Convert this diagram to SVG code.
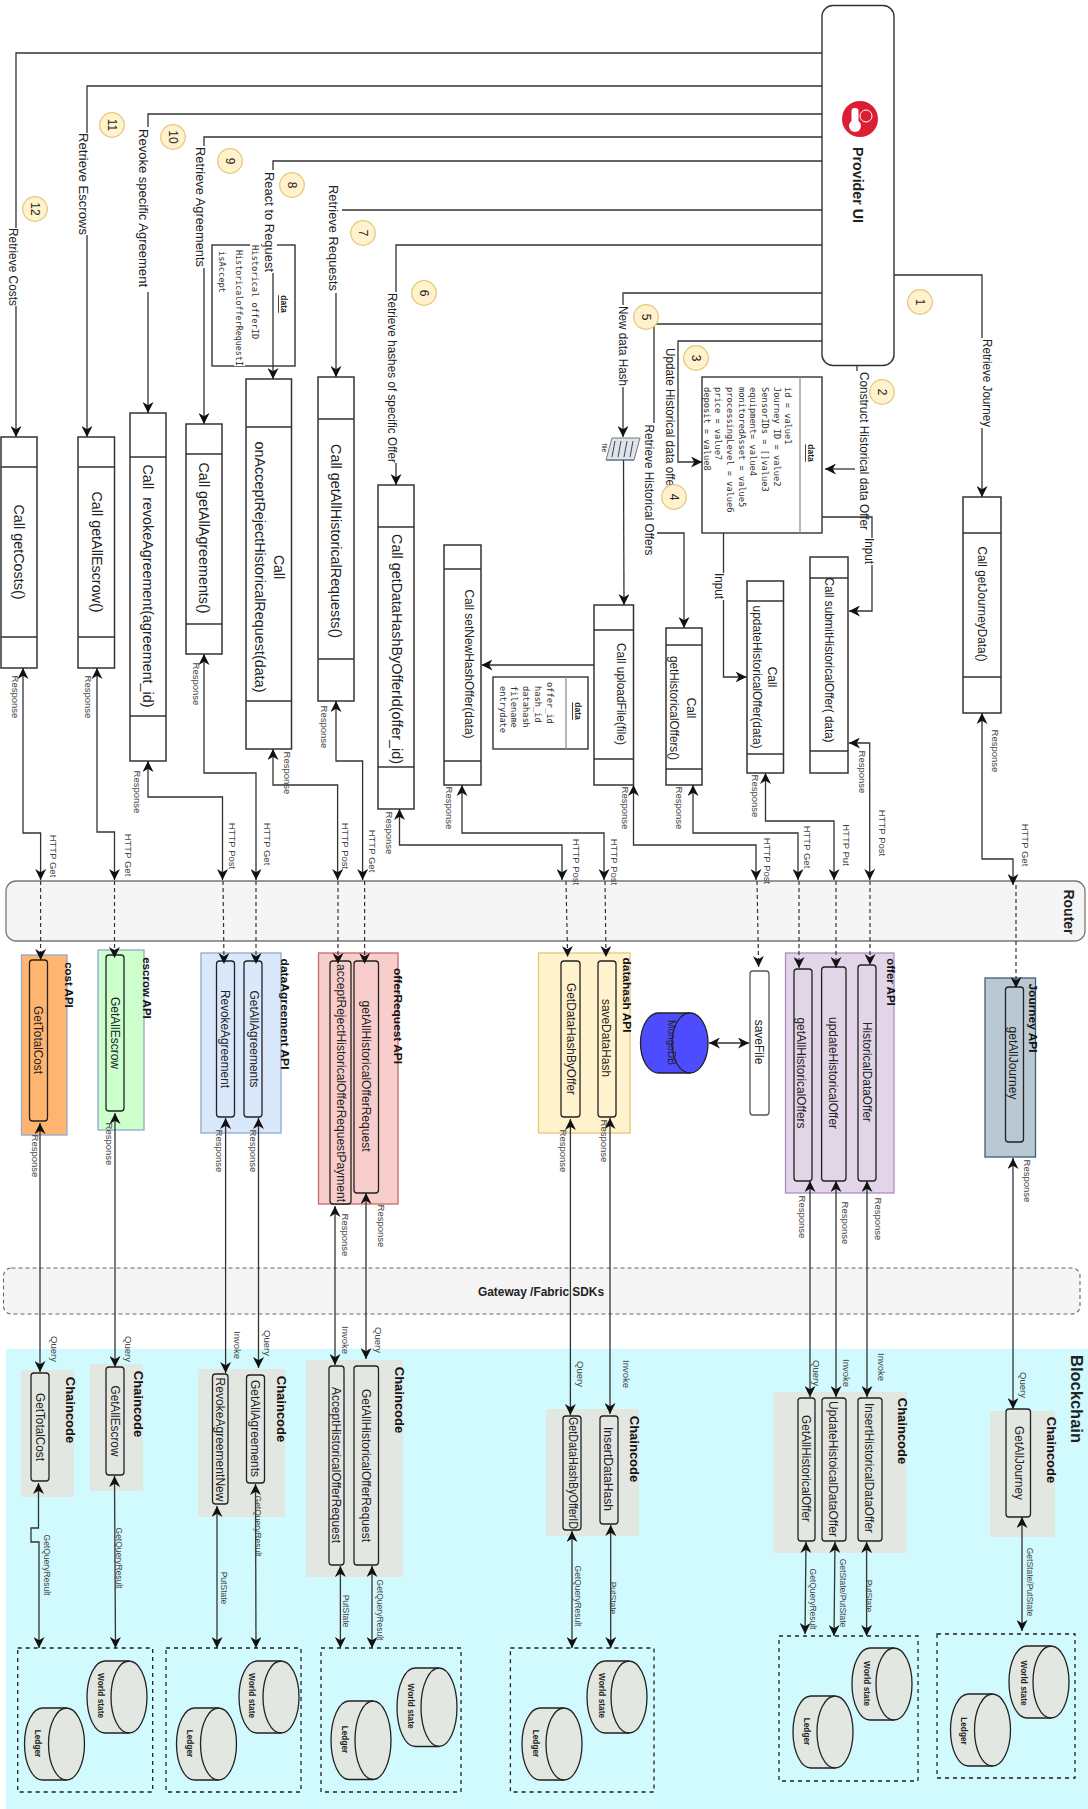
<svg xmlns="http://www.w3.org/2000/svg" xmlns:xlink="http://www.w3.org/1999/xlink" width="1088" height="1809" viewBox="0 0 1088 1809">
<style>
text{font-family:"Liberation Sans",Arial,sans-serif;text-anchor:middle;dominant-baseline:central;fill:#222}
.b{fill:#fff;stroke:#333;stroke-width:1.5}
.l{fill:none;stroke:#333;stroke-width:1.3}
.d{fill:none;stroke:#333;stroke-width:1.2;stroke-dasharray:4 3}
.a{marker-end:url(#ah)}
.aa{marker-start:url(#ah);marker-end:url(#ah)}
.in{stroke:#222;stroke-width:1.3}
.cc{fill:#e2e7e1}
.bg{fill:#fff}
.t14{font-size:14px}
.t12{font-size:12px}
.lb{font-size:12px}
.r{font-size:9.5px;fill:#444}
.q{font-size:8.5px;fill:#444}
.h{font-size:13px;font-weight:bold;fill:#111}
.api{font-size:11.5px;font-weight:bold;fill:#111}
.mono{font-family:"DejaVu Sans Mono","Liberation Mono",monospace;font-size:8.7px;fill:#333;text-anchor:start}
.bold{font-weight:bold}
.cb{font-size:8.3px;font-weight:bold;fill:#222}
.num{fill:#fff2cc;stroke:#e3c77a;stroke-width:1.2}
.dash{fill:none;stroke:#222;stroke-width:1.3;stroke-dasharray:4 4}
</style>
<defs>
<marker id="ah" viewBox="0 0 10 10" refX="10" refY="5" markerWidth="11" markerHeight="11" markerUnits="userSpaceOnUse" orient="auto-start-reverse"><path d="M0,0L10,5L0,10L3,5Z" fill="#111"/></marker>
<g id="cyl"><path class="cc" stroke="#222" stroke-width="1.3" d="M18,0H42A18,36 0 0 1 42,72H18A18,36 0 0 1 18,0Z"/><path fill="none" stroke="#222" stroke-width="1.3" d="M42,0A18,36 0 0 0 42,72"/></g>
</defs>
<rect width="1088" height="1809" fill="#fff"/>

<g id="blockchain">
<rect x="6" y="1349" width="1082" height="460" fill="#d1faff"/>
<text class="bold" font-size="16.5" transform="translate(1077,1399) rotate(90)">Blockchain</text>
</g>

<g id="router">
<rect x="6" y="881" width="1079" height="60" rx="10" fill="#f5f5f5" stroke="#777" stroke-width="1.3"/>
<text class="bold t14" transform="translate(1069,912) rotate(90)">Router</text>
</g>
<g id="gateway">
<rect x="3.5" y="1268" width="1076.5" height="46" rx="8" fill="#f5f5f5" stroke="#666" stroke-width="1.1" stroke-dasharray="4 3"/>
<text class="bold" font-size="12" x="541" y="1292" fill="#444" textLength="126" lengthAdjust="spacingAndGlyphs">Gateway /Fabric SDKs</text>
</g>

<g id="provider-ui">
<rect x="822" y="5.5" width="72" height="360" rx="11" fill="#fff" stroke="#333" stroke-width="1.4"/>
<circle cx="860" cy="119" r="18" fill="#dc1e35"/>
<rect x="851.5" y="108" width="7" height="20" rx="3" fill="#fff"/>
<circle cx="855" cy="126" r="6" fill="#fff"/>
<circle cx="866" cy="116" r="6" fill="none" stroke="#fff" stroke-width="1"/>
<text class="bold" font-size="14.2" transform="translate(858,185) rotate(90)" textLength="76" lengthAdjust="spacingAndGlyphs">Provider UI</text>
</g>

<g id="data-request">
<rect x="212" y="245" width="83" height="121" fill="#fff" stroke="#333" stroke-width="1.4"/>
<rect x="250" y="244" width="11" height="97" class="bg"/>
<rect x="234" y="249" width="11" height="117" class="bg"/>
<rect x="217" y="250" width="11" height="43" class="bg"/>
<text class="mono" transform="translate(255,245) rotate(90)">Historical offerID</text>
<text class="mono" transform="translate(239,250) rotate(90)" textLength="116" lengthAdjust="spacingAndGlyphs">HistoricalofferRequestI</text>
<text class="mono" transform="translate(222,251) rotate(90)">isAccept</text>
<text class="bold" font-size="8.5" text-decoration="underline" transform="translate(284,304) rotate(90)">data</text>
</g>

<g id="data-offer">
<rect x="702" y="377" width="120" height="156" fill="#fff" stroke="#333" stroke-width="1.4"/>
<path d="M800,377V533" stroke="#999" stroke-width="1.4"/>
<text class="bold" font-size="8.5" text-decoration="underline" transform="translate(811,453) rotate(90)">data</text>
<text class="mono" transform="translate(788,387) rotate(90)">id = value1</text>
<text class="mono" transform="translate(777,387) rotate(90)">Journey ID = value2</text>
<text class="mono" transform="translate(765,387) rotate(90)">SensorIDs = []value3</text>
<text class="mono" transform="translate(753,387) rotate(90)">equipment= value4</text>
<text class="mono" transform="translate(742,387) rotate(90)">monitoredAsset = value5</text>
<text class="mono" transform="translate(730,387) rotate(90)">processingLevel = value6</text>
<text class="mono" transform="translate(718,387) rotate(90)">price = value7</text>
<text class="mono" transform="translate(707,387) rotate(90)">deposit = value8</text>
</g>

<g id="data-hash">
<rect x="493" y="677" width="95" height="72" fill="#fff" stroke="#333" stroke-width="1.4"/>
<path d="M566,677V749" stroke="#999" stroke-width="1.4"/>
<text class="bold" font-size="8.5" text-decoration="underline" transform="translate(578,711) rotate(90)">data</text>
<text class="mono" transform="translate(550,682) rotate(90)">offer_id</text>
<text class="mono" transform="translate(538,686) rotate(90)">hash_id</text>
<text class="mono" transform="translate(526,686) rotate(90)">datahash</text>
<text class="mono" transform="translate(514,686) rotate(90)">filename</text>
<text class="mono" transform="translate(502.5,686) rotate(90)">entrydate</text>
</g>

<g id="file-icon">
<path d="M612,438H640L634,460H606Z" fill="#dfe3ea" stroke="#778" stroke-width="1"/>
<path d="M606,460H634" stroke="#7f8fb0" stroke-width="2"/>
<path d="M615,441L612,457M621,441L618,457M627,441L624,457M633,441L630,457" stroke="#444" stroke-width="1"/>
<text font-size="7" fill="#666" transform="translate(604,448) rotate(90)">file</text>
</g>

<g id="call-costs"><rect class="b" x="1" y="437" width="36" height="231"/><path class="b" d="M1,467H37M1,637H37"/><text class="t14" transform="translate(19,552) rotate(90)" textLength="95" lengthAdjust="spacingAndGlyphs">Call getCosts()</text></g>
<g id="call-escrow"><rect class="b" x="78" y="437" width="36.500" height="231"/><path class="b" d="M78,467H114.500M78,637H114.500"/><text class="t14" transform="translate(97,552) rotate(90)" textLength="121" lengthAdjust="spacingAndGlyphs">Call getAllEscrow()</text></g>
<g id="call-revoke"><rect class="b" x="130" y="413" width="36" height="348"/><path class="b" d="M130,457H166M130,716H166"/><text class="t14" xml:space="preserve" transform="translate(148,586) rotate(90)" textLength="243" lengthAdjust="spacingAndGlyphs">Call  revokeAgreement(agreement_id)</text></g>
<g id="call-agreements"><rect class="b" x="186" y="424" width="36" height="230"/><path class="b" d="M186,454H222M186,624H222"/><text class="t14" transform="translate(204,538) rotate(90)" textLength="151" lengthAdjust="spacingAndGlyphs">Call getAllAgreements()</text></g>
<g id="call-accept"><rect class="b" x="246" y="379" width="45.500" height="370"/><path class="b" d="M246,427H291.500M246,701H291.500"/><text class="t14" transform="translate(279,567) rotate(90)">Call</text><text class="t14" transform="translate(260,567) rotate(90)" textLength="251" lengthAdjust="spacingAndGlyphs">onAcceptRejectHistoricalRequest(data)</text></g>
<g id="call-requests"><rect class="b" x="318" y="377" width="36" height="324"/><path class="b" d="M318,419H354M318,659H354"/><text class="t14" transform="translate(336,541) rotate(90)" textLength="194" lengthAdjust="spacingAndGlyphs">Call getAllHistoricalRequests()</text></g>
<g id="call-datahash"><rect class="b" x="378" y="485" width="36" height="324"/><path class="b" d="M378,527H414M378,767H414"/><text class="t14" transform="translate(397,649) rotate(90)" textLength="230" lengthAdjust="spacingAndGlyphs">Call getDataHashByOfferId(offer_id)</text></g>
<g id="call-newhash"><rect class="b" x="444" y="545" width="37" height="240"/><path class="b" d="M444,569H481M444,761H481"/><text class="t12" transform="translate(469,664) rotate(90)" textLength="149" lengthAdjust="spacingAndGlyphs">Call setNewHashOffer(data)</text></g>
<g id="call-upload"><rect class="b" x="594" y="605" width="39.500" height="180"/><path class="b" d="M594,630H633.500M594,759H633.500"/><text class="t12" transform="translate(621,694) rotate(90)" textLength="102" lengthAdjust="spacingAndGlyphs">Call uploadFile(file)</text></g>
<g id="call-gethist"><rect class="b" x="666" y="628" width="36" height="157"/><path class="b" d="M666,645H702M666,769H702"/><text class="t12" transform="translate(691,708) rotate(90)">Call</text><text class="t12" transform="translate(674,708) rotate(90)" textLength="104" lengthAdjust="spacingAndGlyphs">getHistoricalOffers()</text></g>
<g id="call-update"><rect class="b" x="747" y="581" width="36.500" height="192"/><path class="b" d="M747,601H783.500M747,754H783.500"/><text class="t12" transform="translate(772,677) rotate(90)">Call</text><text class="t12" transform="translate(757,677) rotate(90)" textLength="143" lengthAdjust="spacingAndGlyphs">updateHistoricalOffer(data)</text></g>
<g id="call-submit"><rect class="b" x="810" y="557" width="38" height="216"/><path class="b" d="M810,578H848M810,751H848"/><text class="t12" transform="translate(829,660) rotate(90)" textLength="165" lengthAdjust="spacingAndGlyphs">Call submitHistoricalOffer( data)</text></g>
<g id="call-journey"><rect class="b" x="963" y="497" width="38" height="216"/><path class="b" d="M963,533H1001M963,677H1001"/><text class="t12" transform="translate(982,604) rotate(90)" textLength="115" lengthAdjust="spacingAndGlyphs">Call getJourneyData()</text></g>

<g id="cost-api">
<rect x="21.500" y="955" width="45.500" height="180" fill="#ffb570" stroke="#8fa9d0" stroke-width="1.300"/>
<rect class="in" x="29.500" y="960" width="18" height="161" rx="3" fill="#ffb570"/>
<text class="api" transform="translate(69.400,985) rotate(90)">cost API</text>
<text class="t12" transform="translate(37.500,1040) rotate(90)" fill="#333" textLength="68" lengthAdjust="spacingAndGlyphs">GetTotalCost</text>
</g>
<g id="escrow-api">
<rect x="98" y="950" width="46" height="180" fill="#ccffcc" stroke="#8fa9d0" stroke-width="1.300"/>
<rect class="in" x="106" y="955" width="18" height="156" rx="3" fill="#ccffcc"/>
<text class="api" transform="translate(146.500,988) rotate(90)">escrow API</text>
<text class="t12" transform="translate(114.500,1033) rotate(90)" textLength="72" lengthAdjust="spacingAndGlyphs">GetAllEscrow</text>
</g>
<g id="dataagreement-api">
<rect x="201" y="953" width="80" height="180" fill="#dae8fc" stroke="#8fa9d0" stroke-width="1.300"/>
<rect class="in" x="216.500" y="961" width="18" height="156" rx="3" fill="#dae8fc"/>
<rect class="in" x="244" y="961" width="18" height="156" rx="3" fill="#dae8fc"/>
<text class="api" transform="translate(284.500,1014) rotate(90)" textLength="111" lengthAdjust="spacingAndGlyphs">dataAgreement API</text>
<text class="t12" transform="translate(225,1039) rotate(90)" textLength="98" lengthAdjust="spacingAndGlyphs">RevokeAgreement</text>
<text class="t12" transform="translate(253.500,1039) rotate(90)" textLength="97" lengthAdjust="spacingAndGlyphs">GetAllAgreements</text>
</g>
<g id="offerrequest-api">
<rect x="318.500" y="953" width="79.500" height="251" fill="#f8cecc" stroke="#c56a66" stroke-width="1.300"/>
<rect class="in" x="330" y="961" width="21" height="243" rx="3" fill="#f8cecc"/>
<rect class="in" x="354" y="961" width="24.500" height="232" rx="3" fill="#f8cecc"/>
<text class="api" transform="translate(397.500,1016) rotate(90)" textLength="96" lengthAdjust="spacingAndGlyphs">offerRequest API</text>
<text class="t12" transform="translate(341,1083) rotate(90)" textLength="238" lengthAdjust="spacingAndGlyphs">acceptRejectHistoricalOfferRequestPayment</text>
<text class="t12" transform="translate(366,1076) rotate(90)" textLength="151" lengthAdjust="spacingAndGlyphs">getAllHistoricalOfferRequest</text>
</g>
<g id="datahash-api">
<rect x="538.500" y="953" width="91.500" height="180" fill="#fff2cc" stroke="#e3c77a" stroke-width="1.300"/>
<rect class="in" x="561" y="961" width="19" height="156" rx="3" fill="#fff2cc"/>
<rect class="in" x="598" y="961" width="18" height="156" rx="3" fill="#fff2cc"/>
<text class="api" transform="translate(627,995) rotate(90)" textLength="75" lengthAdjust="spacingAndGlyphs">datahash API</text>
<text class="t12" transform="translate(570.500,1039) rotate(90)" textLength="112" lengthAdjust="spacingAndGlyphs">GetDataHashByOffer</text>
<text class="t12" transform="translate(606,1038) rotate(90)" textLength="78" lengthAdjust="spacingAndGlyphs">saveDataHash</text>
</g>
<g id="mongodb">
<path fill="#4d4dff" stroke="#222" stroke-width="1.300" d="M658.500,1013H690A18,30 0 0 1 690,1073H658.500A18,30 0 0 1 658.500,1013Z"/>
<path fill="none" stroke="#222" stroke-width="1.300" d="M690,1013A18,30 0 0 0 690,1073"/>
<text font-size="10" fill="#111" transform="translate(671,1042.500) rotate(90)" textLength="45" lengthAdjust="spacingAndGlyphs">MongoDB</text>
</g>
<g id="savefile">
<rect x="750" y="971" width="19" height="144" rx="3" fill="#fff" stroke="#555" stroke-width="1.300"/>
<text class="t12" transform="translate(758.600,1042) rotate(90)">saveFile</text>
</g>
<g id="offer-api">
<rect x="785.500" y="953" width="108.500" height="240" fill="#e1d5e7" stroke="#b08fc0" stroke-width="1.300"/>
<rect class="in" x="794" y="969" width="18" height="212" rx="3" fill="#e1d5e7"/>
<rect class="in" x="821.600" y="967" width="24.400" height="214" rx="3" fill="#e1d5e7"/>
<rect class="in" x="858" y="965" width="18" height="216" rx="3" fill="#e1d5e7"/>
<text class="api" transform="translate(891,982) rotate(90)">offer API</text>
<text class="t12" transform="translate(801,1073) rotate(90)" textLength="111" lengthAdjust="spacingAndGlyphs">getAllHistoricalOffers</text>
<text class="t12" transform="translate(833,1073) rotate(90)" textLength="112" lengthAdjust="spacingAndGlyphs">updateHistoricalOffer</text>
<text class="t12" transform="translate(867,1072) rotate(90)" textLength="100" lengthAdjust="spacingAndGlyphs">HistoricalDataOffer</text>
</g>
<g id="journey-api">
<rect x="985" y="978" width="50.500" height="179" fill="#bac8d3" stroke="#3d5f78" stroke-width="1.300"/>
<rect class="in" x="1005.500" y="987" width="18" height="155" rx="3" fill="#bac8d3"/>
<text class="api" transform="translate(1033,1018) rotate(90)" textLength="69" lengthAdjust="spacingAndGlyphs">Journey API</text>
<text class="t12" transform="translate(1013,1063) rotate(90)" fill="#333" textLength="73" lengthAdjust="spacingAndGlyphs">getAllJourney</text>
</g>

<g id="chaincode-cost">
<rect class="cc" x="21" y="1370" width="53" height="127"/>
<rect class="in" x="31" y="1373" width="18" height="108" rx="3" fill="#e2e7e1"/>
<text class="h" transform="translate(70,1410) rotate(90)">Chaincode</text>
<text class="t12" transform="translate(40,1427) rotate(90)" textLength="68" lengthAdjust="spacingAndGlyphs">GetTotalCost</text>
</g>
<g id="chaincode-escrow">
<rect class="cc" x="90" y="1364" width="53" height="127"/>
<rect class="in" x="106" y="1367" width="18" height="108" rx="3" fill="#e2e7e1"/>
<text class="h" transform="translate(138,1404) rotate(90)">Chaincode</text>
<text class="t12" transform="translate(115,1421) rotate(90)" textLength="71" lengthAdjust="spacingAndGlyphs">GetAllEscrow</text>
</g>
<g id="chaincode-agreement">
<rect class="cc" x="198" y="1369" width="87" height="148"/>
<rect class="in" x="212.500" y="1374" width="15.500" height="130" rx="3" fill="#e2e7e1"/>
<rect class="in" x="246.500" y="1375" width="18" height="108" rx="3" fill="#e2e7e1"/>
<text class="h" transform="translate(281,1409) rotate(90)">Chaincode</text>
<text class="t12" transform="translate(220,1439.500) rotate(90)" textLength="124" lengthAdjust="spacingAndGlyphs">RevokeAgreementNew</text>
<text class="t12" transform="translate(255,1428.500) rotate(90)" textLength="97" lengthAdjust="spacingAndGlyphs">GetAllAgreements</text>
</g>
<g id="chaincode-request">
<rect class="cc" x="306" y="1360" width="97" height="217"/>
<rect class="in" x="329" y="1366" width="15" height="199" rx="3" fill="#e2e7e1"/>
<rect class="in" x="354" y="1366" width="24.500" height="199" rx="3" fill="#e2e7e1"/>
<text class="h" transform="translate(399,1400) rotate(90)">Chaincode</text>
<text class="t12" transform="translate(336,1465) rotate(90)" textLength="156" lengthAdjust="spacingAndGlyphs">AcceptHistoricalOfferRequest</text>
<text class="t12" transform="translate(366,1465.500) rotate(90)" textLength="153" lengthAdjust="spacingAndGlyphs">GetAllHistoricalOfferRequest</text>
</g>
<g id="chaincode-datahash">
<rect class="cc" x="546" y="1409" width="93" height="127"/>
<rect class="in" x="563" y="1416" width="18" height="114" rx="3" fill="#e2e7e1"/>
<rect class="in" x="600" y="1416" width="18" height="108" rx="3" fill="#e2e7e1"/>
<text class="h" transform="translate(634,1449) rotate(90)">Chaincode</text>
<text class="t12" transform="translate(572.500,1473) rotate(90)" textLength="112" lengthAdjust="spacingAndGlyphs">GetDataHashByOfferID</text>
<text class="t12" transform="translate(608,1469) rotate(90)" textLength="84" lengthAdjust="spacingAndGlyphs">InsertDataHash</text>
</g>
<g id="chaincode-offer">
<rect class="cc" x="773.500" y="1392" width="133" height="161"/>
<rect class="in" x="798" y="1398" width="17" height="143" rx="3" fill="#e2e7e1"/>
<rect class="in" x="822" y="1398" width="24" height="143" rx="3" fill="#e2e7e1"/>
<rect class="in" x="858" y="1398" width="24" height="143" rx="3" fill="#e2e7e1"/>
<text class="h" transform="translate(902,1431) rotate(90)">Chaincode</text>
<text class="t12" transform="translate(806,1468.500) rotate(90)" textLength="107" lengthAdjust="spacingAndGlyphs">GetAllHistoricalOffer</text>
<text class="t12" transform="translate(833,1469) rotate(90)" textLength="136" lengthAdjust="spacingAndGlyphs">UpdateHistoicalDataOffer</text>
<text class="t12" transform="translate(868.600,1468) rotate(90)" textLength="130" lengthAdjust="spacingAndGlyphs">InsertHistoricalDataOffer</text>
</g>
<g id="chaincode-journey">
<rect class="cc" x="990" y="1411" width="65" height="126"/>
<rect class="in" x="1006" y="1409" width="24.500" height="108" rx="3" fill="#e2e7e1"/>
<text class="h" transform="translate(1051,1450) rotate(90)">Chaincode</text>
<text class="t12" transform="translate(1018.600,1463) rotate(90)" textLength="74" lengthAdjust="spacingAndGlyphs">GetAllJourney</text>
</g>

<g id="store-a"><rect class="dash" x="17.700" y="1648" width="135" height="144"/><use href="#cyl" transform="translate(87,1661)"/><use href="#cyl" transform="translate(24.500,1708)"/><text class="cb" transform="translate(100.600,1695.500) rotate(90)">World state</text><text class="cb" transform="translate(38,1743.500) rotate(90)">Ledger</text></g>
<g id="store-b"><rect class="dash" x="166" y="1648" width="135" height="144"/><use href="#cyl" transform="translate(239,1661)"/><use href="#cyl" transform="translate(176.500,1708)"/><text class="cb" transform="translate(252,1695.500) rotate(90)">World state</text><text class="cb" transform="translate(190,1743.500) rotate(90)">Ledger</text></g>
<g id="store-c"><rect class="dash" x="321" y="1648" width="140" height="144"/><use href="#cyl" transform="translate(397,1668) scale(1,1.090)"/><use href="#cyl" transform="translate(331,1701) scale(1,1.090)"/><text class="cb" transform="translate(411,1706) rotate(90)">World state</text><text class="cb" transform="translate(345,1739.500) rotate(90)">Ledger</text></g>
<g id="store-d"><rect class="dash" x="510.400" y="1648" width="143.600" height="144"/><use href="#cyl" transform="translate(587,1661)"/><use href="#cyl" transform="translate(522,1708)"/><text class="cb" transform="translate(602,1695.500) rotate(90)">World state</text><text class="cb" transform="translate(536,1743.500) rotate(90)">Ledger</text></g>
<g id="store-e"><rect class="dash" x="779" y="1636" width="139" height="145"/><use href="#cyl" transform="translate(852,1648)"/><use href="#cyl" transform="translate(793,1696)"/><text class="cb" transform="translate(867,1683.500) rotate(90)">World state</text><text class="cb" transform="translate(807,1731.500) rotate(90)">Ledger</text></g>
<g id="store-f"><rect class="dash" x="937" y="1634" width="138" height="144"/><use href="#cyl" transform="translate(1009,1646)"/><use href="#cyl" transform="translate(950.500,1694)"/><text class="cb" transform="translate(1024,1683) rotate(90)">World state</text><text class="cb" transform="translate(964,1731) rotate(90)">Ledger</text></g>

<g id="connectors">
<path class="l a" d="M822,53H16V437"/>
<path class="l a" d="M822,86H87V437"/>
<path class="l a" d="M822,114H148V413"/>
<path class="l a" d="M822,137H204V424"/>
<path class="l a" d="M822,161H273V379"/>
<path class="l a" d="M822,210H336V377"/>
<path class="l a" d="M822,245H396V485"/>
<path class="l a" d="M822,293H623V437"/>
<path class="l a" d="M822,324H654V533H684V628"/>
<path class="l a" d="M822,341H678V462H702"/>
<path class="l" d="M857,366V371"/>
<path class="l a" d="M855,469H825"/>
<path class="l a" d="M894,275H982V497"/>
<path class="l a" d="M623.500,460L624,605"/>
<path class="l a" d="M594,665H481.500"/>
<path class="l a" d="M723.500,533V677H746.500"/>

<rect class="bg" x="8" y="228" width="14" height="78"/><text class="lb" transform="translate(13,267) rotate(90)" textLength="78" lengthAdjust="spacingAndGlyphs">Retrieve Costs</text>
<rect class="bg" x="76" y="133" width="14" height="102"/><text class="lb" transform="translate(83,184) rotate(90)" textLength="102" lengthAdjust="spacingAndGlyphs">Retrieve Escrows</text>
<rect class="bg" x="136" y="127" width="15" height="165"/><text class="lb" transform="translate(143,208) rotate(90)" textLength="158" lengthAdjust="spacingAndGlyphs">Revoke specific Agreement</text>
<rect class="bg" x="193" y="146" width="15" height="122"/><text class="lb" transform="translate(200,207) rotate(90)" textLength="120" lengthAdjust="spacingAndGlyphs">Retrieve Agreements</text>
<rect class="bg" x="262" y="170" width="15" height="103"/><text class="lb" transform="translate(269,222) rotate(90)" textLength="100" lengthAdjust="spacingAndGlyphs">React to Request</text>
<rect class="bg" x="326" y="184" width="16" height="109"/><text class="lb" transform="translate(333,238) rotate(90)" textLength="106" lengthAdjust="spacingAndGlyphs">Retrieve Requests</text>
<rect class="bg" x="385" y="292" width="14" height="171"/><text class="lb" transform="translate(392,378) rotate(90)" textLength="170" lengthAdjust="spacingAndGlyphs">Retrieve hashes of specific Offer</text>
<rect class="bg" x="616" y="305" width="14" height="82"/><text class="lb" transform="translate(623,346) rotate(90)" textLength="80" lengthAdjust="spacingAndGlyphs">New data Hash</text>
<rect class="bg" x="642" y="423" width="15" height="133"/><text class="lb" transform="translate(649,490) rotate(90)" textLength="131" lengthAdjust="spacingAndGlyphs">Retrieve Historical Offers</text>
<rect class="bg" x="663" y="348" width="14" height="142"/><text class="lb" transform="translate(670,419) rotate(90)" textLength="142" lengthAdjust="spacingAndGlyphs">Update Historical data offer</text>
<rect class="bg" x="857.500" y="371" width="14" height="160"/><text class="lb" transform="translate(864,451) rotate(90)" textLength="158" lengthAdjust="spacingAndGlyphs">Construct Historical data Offer</text>
<rect class="bg" x="980" y="338" width="14" height="90"/><text class="lb" transform="translate(986.500,383) rotate(90)" textLength="88" lengthAdjust="spacingAndGlyphs">Retrieve Journey</text>

<path class="l a" d="M822,517H872V611H849"/>
<rect class="bg" x="861" y="538" width="15" height="27"/><text class="lb" transform="translate(868.600,551) rotate(90)" textLength="26" lengthAdjust="spacingAndGlyphs">Input</text>
<rect class="bg" x="712" y="573" width="14" height="27"/><text class="lb" transform="translate(719,586) rotate(90)" textLength="26" lengthAdjust="spacingAndGlyphs">Input</text>

<path class="l aa" d="M23,668V833H40.600V880"/>
<path class="l aa" d="M97,668V832H114.500V880"/>
<path class="l aa" d="M148,761V797H222.500V880"/>
<path class="l aa" d="M204,654V773H256V880"/>
<path class="l aa" d="M273,749V785H337.600V880"/>
<path class="l aa" d="M336,701V761H362.600V880"/>
<path class="l aa" d="M399.500,809V845H562V880"/>
<path class="l aa" d="M462,785V833H604V880"/>
<path class="l aa" d="M633.500,785V845H756V880"/>
<path class="l aa" d="M693,785V833H798V880"/>
<path class="l aa" d="M765.500,773V821H834V880"/>
<path class="l aa" d="M849,743H869.700V880"/>
<path class="l aa" d="M982,713V859H1013V885"/>

<path class="d a" d="M40.600,881V960"/>
<path class="d a" d="M114.500,881V958"/>
<path class="d a" d="M223,881L224,964"/>
<path class="d a" d="M256,881V964"/>
<path class="d a" d="M338,881V964"/>
<path class="d a" d="M364.600,881V964"/>
<path class="d a" d="M566,881L567.600,957"/>
<path class="d a" d="M605,881L606,957"/>
<path class="d a" d="M757,881L758.600,967"/>
<path class="d a" d="M799,881V968"/>
<path class="d a" d="M836,881V968"/>
<path class="d a" d="M870,881V965"/>
<path class="d a" d="M1016,885V988"/>

<path class="l aa" d="M709,1043H749"/>

<path class="l aa" d="M40,1123V1372"/>
<path class="l aa" d="M115,1113V1367"/>
<path class="l aa" d="M225.600,1118V1373"/>
<path class="l aa" d="M258.500,1118V1368"/>
<path class="l aa" d="M335,1206V1365"/>
<path class="l aa" d="M366,1193V1359"/>
<path class="l aa" d="M570.400,1119V1415"/>
<path class="l aa" d="M610,1118V1414"/>
<path class="l aa" d="M810,1181V1397"/>
<path class="l aa" d="M836,1181V1397"/>
<path class="l aa" d="M867,1181V1397"/>
<path class="l aa" d="M1013,1158V1409"/>

<path class="l aa" d="M38.500,1483V1528H31V1542H39V1648"/>
<path class="l aa" d="M114.500,1476L115.500,1648"/>
<path class="l aa" d="M217,1506V1648"/>
<path class="l aa" d="M255.500,1484L256,1648"/>
<path class="l aa" d="M340.400,1566V1648"/>
<path class="l aa" d="M372,1566V1648"/>
<path class="l aa" d="M572,1531V1648"/>
<path class="l aa" d="M610.700,1525V1648"/>
<path class="l aa" d="M806,1542L805,1634"/>
<path class="l aa" d="M835,1542L834,1636"/>
<path class="l aa" d="M866.600,1542V1636"/>
<path class="l aa" d="M1022,1517V1631"/>

<text class="r" transform="translate(15.600,697) rotate(90)">Response</text><text class="r" transform="translate(53,856) rotate(90)">HTTP Get</text>
<text class="r" transform="translate(88.500,697) rotate(90)">Response</text><text class="r" transform="translate(128,855) rotate(90)">HTTP Get</text>
<text class="r" transform="translate(137,792) rotate(90)">Response</text><text class="r" transform="translate(232.500,846) rotate(90)">HTTP Post</text>
<text class="r" transform="translate(196,684) rotate(90)">Response</text><text class="r" transform="translate(267,844) rotate(90)">HTTP Get</text>
<text class="r" transform="translate(287,773) rotate(90)">Response</text><text class="r" transform="translate(345,846) rotate(90)">HTTP Post</text>
<text class="r" transform="translate(324,727) rotate(90)">Response</text><text class="r" transform="translate(372,851) rotate(90)">HTTP Get</text>
<text class="r" transform="translate(389,833) rotate(90)">Response</text><text class="r" transform="translate(576,862) rotate(90)">HTTP Post</text>
<text class="r" transform="translate(449.600,808) rotate(90)">Response</text><text class="r" transform="translate(614.500,862) rotate(90)">HTTP Post</text>
<text class="r" transform="translate(625,808) rotate(90)">Response</text><text class="r" transform="translate(767,861) rotate(90)">HTTP Post</text>
<text class="r" transform="translate(679,808) rotate(90)">Response</text><text class="r" transform="translate(807,847) rotate(90)">HTTP Get</text>
<text class="r" transform="translate(755,796) rotate(90)">Response</text><text class="r" transform="translate(846,845) rotate(90)">HTTP Put</text>
<text class="r" transform="translate(862,772) rotate(90)">Response</text><text class="r" transform="translate(882,833) rotate(90)">HTTP Post</text>
<text class="r" transform="translate(995,751) rotate(90)">Response</text><text class="r" transform="translate(1025,845) rotate(90)">HTTP Get</text>

<text class="r" transform="translate(35,1156) rotate(90)">Response</text><text class="r" transform="translate(54,1349) rotate(90)">Query</text>
<text class="r" transform="translate(109,1144) rotate(90)">Response</text><text class="r" transform="translate(128,1349) rotate(90)">Query</text>
<text class="r" transform="translate(219,1151) rotate(90)">Response</text><text class="r" transform="translate(237,1345) rotate(90)">Invoke</text>
<text class="r" transform="translate(253,1151) rotate(90)">Response</text><text class="r" transform="translate(267,1343) rotate(90)">Query</text>
<text class="r" transform="translate(345.600,1235) rotate(90)">Response</text><text class="r" transform="translate(345,1340) rotate(90)">Invoke</text>
<text class="r" transform="translate(381,1226) rotate(90)">Response</text><text class="r" transform="translate(378,1340) rotate(90)">Query</text>
<text class="r" transform="translate(563,1151) rotate(90)">Response</text><text class="r" transform="translate(580,1374) rotate(90)">Query</text>
<text class="r" transform="translate(604,1141) rotate(90)">Response</text><text class="r" transform="translate(626,1374) rotate(90)">Invoke</text>
<text class="r" transform="translate(802,1217) rotate(90)">Response</text><text class="r" transform="translate(816,1373) rotate(90)">Query</text>
<text class="r" transform="translate(845,1223) rotate(90)">Response</text><text class="r" transform="translate(846,1373) rotate(90)">Invoke</text>
<text class="r" transform="translate(878,1219) rotate(90)">Response</text><text class="r" transform="translate(881.500,1367) rotate(90)">Invoke</text>
<text class="r" transform="translate(1027,1181) rotate(90)">Response</text><text class="r" transform="translate(1023,1385) rotate(90)">Query</text>

<text class="q" transform="translate(47,1565) rotate(90)">GetQueryResult</text>
<text class="q" transform="translate(119,1558) rotate(90)">GetQueryResult</text>
<text class="q" transform="translate(223.500,1588) rotate(90)">PutState</text>
<text class="q" transform="translate(257.600,1526) rotate(90)">GetQueryResult</text>
<text class="q" transform="translate(345.600,1611) rotate(90)">PutState</text>
<text class="q" transform="translate(379.600,1610) rotate(90)">GetQueryResult</text>
<text class="q" transform="translate(578,1596) rotate(90)">GetQueryResult</text>
<text class="q" transform="translate(613.400,1598) rotate(90)">PutState</text>
<text class="q" transform="translate(813,1599) rotate(90)">GetQueryResult</text>
<text class="q" transform="translate(842.600,1593) rotate(90)">GetState/PutState</text>
<text class="q" transform="translate(868.600,1596) rotate(90)">PutState</text>
<text class="q" transform="translate(1030,1582) rotate(90)">GetState/PutState</text>
</g>

<g id="step-numbers">
<g id="step-1"><circle class="num" cx="920" cy="302" r="12.300"/><text class="t12" transform="translate(920,302) rotate(90)">1</text></g>
<g id="step-2"><circle class="num" cx="882" cy="392" r="12.300"/><text class="t12" transform="translate(882,392) rotate(90)">2</text></g>
<g id="step-3"><circle class="num" cx="696" cy="358" r="12.300"/><text class="t12" transform="translate(696,358) rotate(90)">3</text></g>
<g id="step-4"><circle class="num" cx="674" cy="497" r="12.300"/><text class="t12" transform="translate(674,497) rotate(90)">4</text></g>
<g id="step-5"><circle class="num" cx="646" cy="317" r="12.300"/><text class="t12" transform="translate(646,317) rotate(90)">5</text></g>
<g id="step-6"><circle class="num" cx="424" cy="293" r="12.300"/><text class="t12" transform="translate(424,293) rotate(90)">6</text></g>
<g id="step-7"><circle class="num" cx="363" cy="233" r="12.300"/><text class="t12" transform="translate(363,233) rotate(90)">7</text></g>
<g id="step-8"><circle class="num" cx="292" cy="185" r="12.300"/><text class="t12" transform="translate(292,185) rotate(90)">8</text></g>
<g id="step-9"><circle class="num" cx="230" cy="161" r="12.300"/><text class="t12" transform="translate(230,161) rotate(90)">9</text></g>
<g id="step-10"><circle class="num" cx="173" cy="137" r="12.300"/><text class="t12" transform="translate(173,137) rotate(90)">10</text></g>
<g id="step-11"><circle class="num" cx="112" cy="125" r="12.300"/><text class="t12" transform="translate(112,125) rotate(90)">11</text></g>
<g id="step-12"><circle class="num" cx="35" cy="209" r="12.300"/><text class="t12" transform="translate(35,209) rotate(90)">12</text></g>
</g>
</svg>
